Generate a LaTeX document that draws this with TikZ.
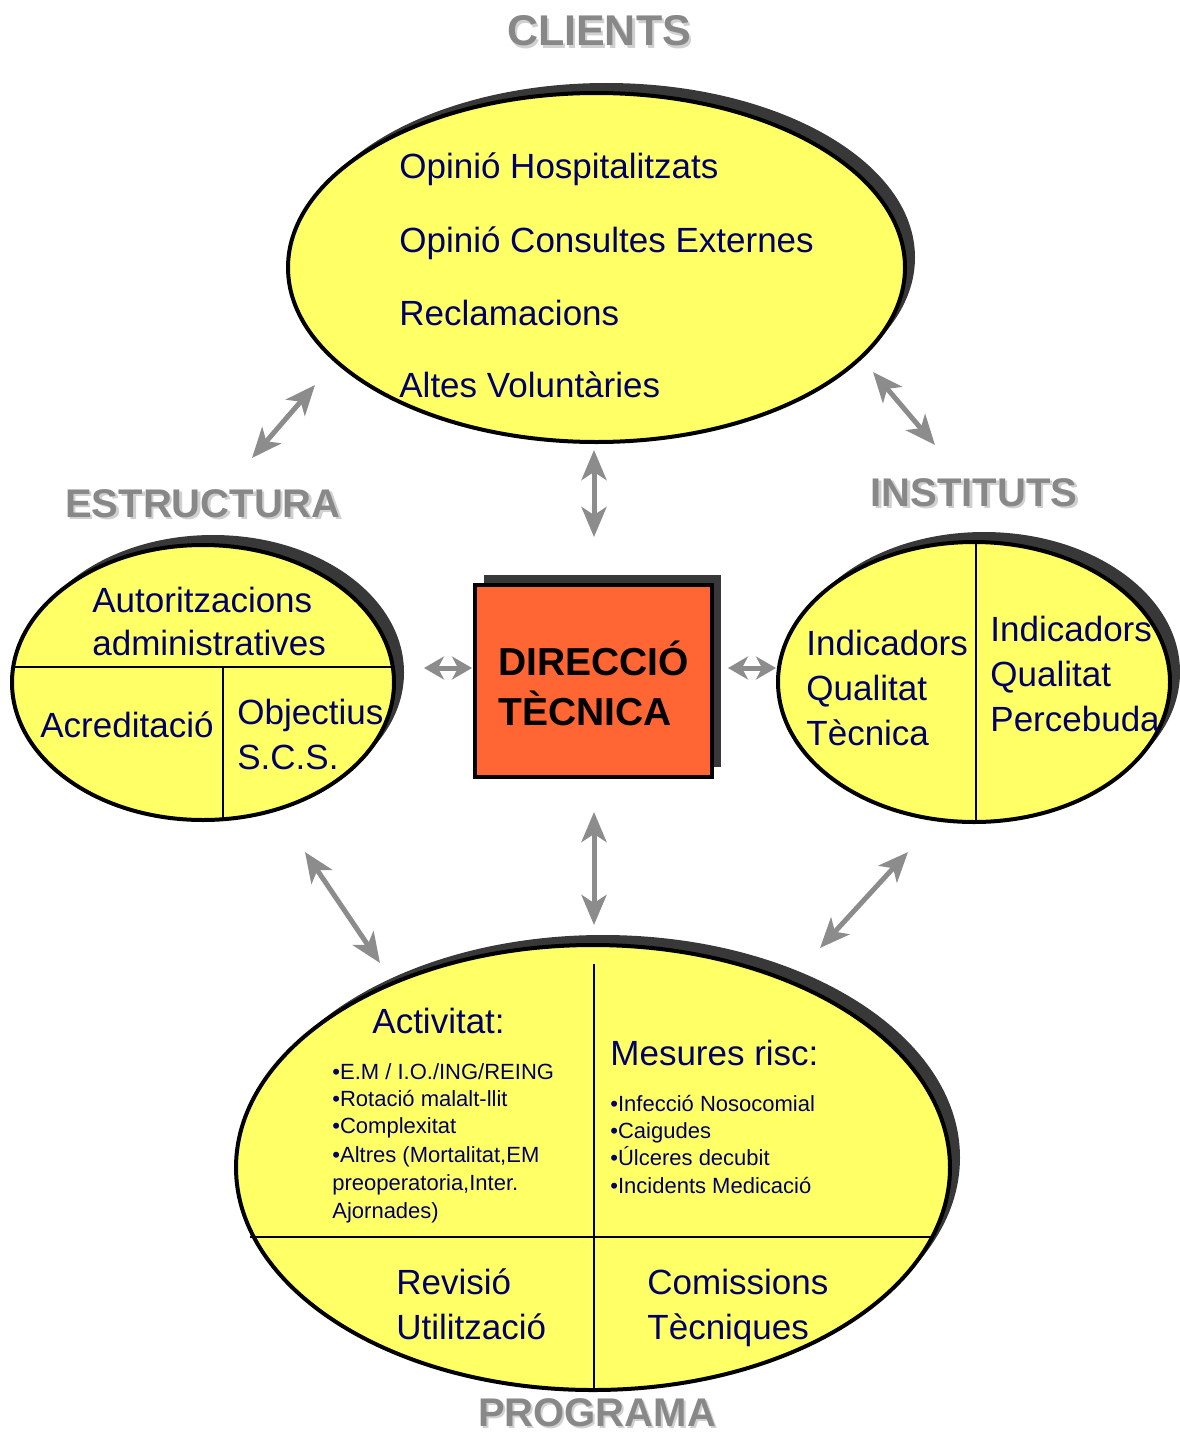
\documentclass[tikz,border=0pt]{standalone}
\usepackage{fontspec}
\setmainfont{Liberation Sans}
\usetikzlibrary{shapes.geometric,shadows,arrows.meta}
\definecolor{yel}{HTML}{FFFF66}
\definecolor{navy}{HTML}{000066}
\definecolor{boxor}{HTML}{FF6633}
\definecolor{shd}{HTML}{383838}
\definecolor{arr}{HTML}{8C8C8C}
\definecolor{hdr}{HTML}{888888}
\definecolor{hdrs}{HTML}{D0D0D0}
\begin{document}
\begin{tikzpicture}[x=0.5pt,y=-0.5pt,
  oval/.style={ellipse, draw=black, line width=2pt, fill=yel, inner sep=0pt,
    drop shadow={shadow xshift=5pt, shadow yshift=5pt, fill=shd, opacity=1}},
  divider/.style={draw=black, line width=1pt},
  lbl/.style={text=navy, font=\fontsize{17.5}{21}\selectfont, inner sep=0pt, anchor=base west},
  sml/.style={text=navy, font=\fontsize{11}{13}\selectfont, inner sep=0pt, anchor=base west},
  hdrtxt/.style={text=hdr, font=\bfseries\fontsize{20}{24}\selectfont, inner sep=0pt, anchor=base},
  hdrshadow/.style={hdrtxt, text=hdrs},
  boxtxt/.style={text=black, font=\bfseries\fontsize{19.5}{23}\selectfont, inner sep=0pt, anchor=base west},
  dbl/.style={draw=arr, line width=2.5pt,
    {Stealth[length=15pt,width=12.5pt,inset=4pt]}-{Stealth[length=15pt,width=12.5pt,inset=4pt]}},
  dblshort/.style={draw=arr, line width=2.5pt,
    {Stealth[length=10pt,width=11.5pt,inset=3pt]}-{Stealth[length=10pt,width=11.5pt,inset=3pt]}}
]
\useasboundingbox (0,0) rectangle (1179,1434);

% ---------- ovals ----------
\node[oval, minimum width=308.5pt, minimum height=174.5pt] (clients) at (596.5,267.5) {};
\node[oval, minimum width=191pt, minimum height=137.5pt] (estructura) at (203,682.5) {};
\node[oval, minimum width=196pt, minimum height=140pt] (instituts) at (974,682) {};
\node[oval, minimum width=357pt, minimum height=222.5pt] (programa) at (593,1167.5) {};

% ---------- central box ----------
\node[draw=black, line width=2pt, fill=boxor, minimum width=118.5pt, minimum height=96pt, inner sep=0pt,
  drop shadow={shadow xshift=4.5pt, shadow yshift=5pt, fill=shd, opacity=1}] (dt) at (593.5,681) {};
\node[boxtxt] (dt1) at (498,675) {DIRECCIÓ};
\node[boxtxt] (dt2) at (498,725) {TÈCNICA};

% ---------- dividers ----------
\draw[divider] (12,667) -- (395,667);
\draw[divider] (223,667) -- (223,820);
\draw[divider] (976,542) -- (976,822);
\draw[divider] (594,964) -- (594,1390);
\draw[divider] (250,1237) -- (934,1237);

% ---------- headers ----------
\node[hdrshadow, font=\bfseries\fontsize{21.5}{25}\selectfont] (h1s) at (601.5,48.5) {CLIENTS};
\node[hdrtxt, font=\bfseries\fontsize{21.5}{25}\selectfont] (h1) at (599,46) {CLIENTS};
\node[hdrshadow] (h2s) at (205.5,519.5) {ESTRUCTURA};
\node[hdrtxt] (h2) at (203,517) {ESTRUCTURA};
\node[hdrshadow] (h3s) at (976.5,508.5) {INSTITUTS};
\node[hdrtxt] (h3) at (974,506) {INSTITUTS};
\node[hdrshadow] (h4s) at (599,1428) {PROGRAMA};
\node[hdrtxt] (h4) at (597,1426) {PROGRAMA};

% ---------- clients text ----------
\node[lbl] (c1) at (399,178) {Opinió Hospitalitzats};
\node[lbl] (c2) at (399,252) {Opinió Consultes Externes};
\node[lbl] (c3) at (399,325) {Reclamacions};
\node[lbl] (c4) at (399,397) {Altes Voluntàries};

% ---------- estructura text ----------
\node[lbl] (e1) at (92,612) {Autoritzacions};
\node[lbl] (e2) at (92,655) {administratives};
\node[lbl] (e3) at (40,737) {Acreditació};
\node[lbl] (e4) at (237,724) {Objectius};
\node[lbl] (e5) at (237,769) {S.C.S.};

% ---------- instituts text ----------
\node[lbl] (i1) at (806,655) {Indicadors};
\node[lbl] (i2) at (806,700) {Qualitat};
\node[lbl] (i3) at (806,745) {Tècnica};
\node[lbl] (i4) at (990,641) {Indicadors};
\node[lbl] (i5) at (990,686) {Qualitat};
\node[lbl] (i6) at (990,731) {Percebuda};

% ---------- programa text ----------
\node[lbl] (p1) at (372,1033) {Activitat:};
\node[sml] (p1a) at (332,1079) {•E.M / I.O./ING/REING};
\node[sml] (p1b) at (332,1106) {•Rotació malalt-llit};
\node[sml] (p1c) at (332,1133) {•Complexitat};
\node[sml] (p1d) at (332,1162) {•Altres (Mortalitat,EM};
\node[sml] (p1e) at (332,1190) {preoperatoria,Inter.};
\node[sml] (p1f) at (332,1218) {Ajornades)};
\node[lbl] (p2) at (610,1065) {Mesures risc:};
\node[sml] (p2a) at (610,1111) {•Infecció Nosocomial};
\node[sml] (p2b) at (610,1138) {•Caigudes};
\node[sml] (p2c) at (610,1165) {•Úlceres decubit};
\node[sml] (p2d) at (610,1193) {•Incidents Medicació};
\node[lbl] (p3) at (396,1294) {Revisió};
\node[lbl] (p4) at (396,1339) {Utilització};
\node[lbl] (p5) at (647,1294) {Comissions};
\node[lbl] (p6) at (647,1339) {Tècniques};

% ---------- arrows ----------
\coordinate (a1s) at (252,458); \coordinate (a1e) at (315,385);
\coordinate (a2s) at (873,372); \coordinate (a2e) at (935,445);
\coordinate (a3s) at (594,450); \coordinate (a3e) at (594,537);
\coordinate (a4s) at (424,668); \coordinate (a4e) at (472,668);
\coordinate (a5s) at (728,668); \coordinate (a5e) at (776,668);
\coordinate (a6s) at (594,812); \coordinate (a6e) at (594,925);
\coordinate (a7s) at (305,852); \coordinate (a7e) at (380,963);
\coordinate (a8s) at (820,948); \coordinate (a8e) at (908,852);
\draw[dbl] (a1s) -- (a1e);
\draw[dbl] (a2s) -- (a2e);
\draw[dbl] (a3s) -- (a3e);
\draw[dblshort] (a4s) -- (a4e);
\draw[dblshort] (a5s) -- (a5e);
\draw[dbl] (a6s) -- (a6e);
\draw[dbl] (a7s) -- (a7e);
\draw[dbl] (a8s) -- (a8e);
\end{tikzpicture}
\end{document}
